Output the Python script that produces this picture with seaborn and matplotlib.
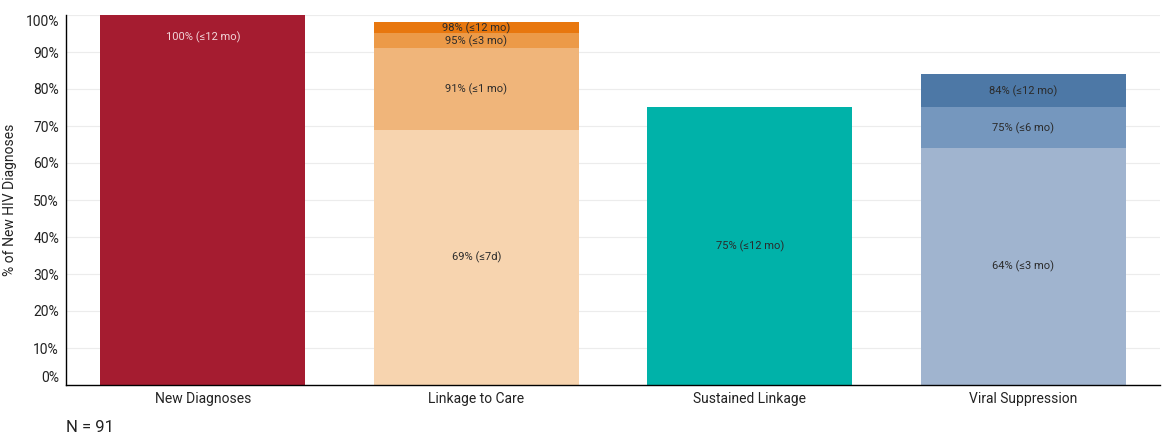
import seaborn as sns
import pandas as pd
import numpy as np
import matplotlib.pyplot as plt

categories = ["New Diagnoses", "Linkage to Care", "Sustained Linkage", "Viral Suppression"]

# segmentos acumulados por categoria (do maior para o menor)
seg_category = ["New Diagnoses",
                "Linkage to Care", "Linkage to Care", "Linkage to Care", "Linkage to Care",
                "Sustained Linkage",
                "Viral Suppression", "Viral Suppression", "Viral Suppression"]
seg_value = [100, 98, 95, 91, 69, 75, 84, 75, 64]
seg_label = ["100% (≤12 mo)",
             "98% (≤12 mo)", "95% (≤3 mo)", "91% (≤1 mo)", "69% (≤7d)",
             "75% (≤12 mo)",
             "84% (≤12 mo)", "75% (≤6 mo)", "64% (≤3 mo)"]
seg_color = ["#A51C30",
             "#E8770E", "#EC9A48", "#F0B57A", "#F7D4AF",
             "#00B2A9",
             "#4D78A6", "#7597BE", "#A0B4CF"]

y_ticks = [0, 10, 20, 30, 40, 50, 60, 70, 80, 90, 100]
n_total = 91

df = pd.DataFrame({"categoria": seg_category, "valor": seg_value,
                   "label": seg_label, "cor": seg_color})

sns.set_style("white")
plt.rcParams['font.family'] = ['Roboto', 'DejaVu Sans']

fig = plt.figure(figsize=(11.67, 4.44), dpi=100)
ax = fig.add_axes([66 / 1167, 59 / 444, 1094 / 1167, 370 / 444])

ax.set_axisbelow(True)
for t in y_ticks:
    ax.axhline(t, color="#ececec", lw=0.8, zorder=0)

# desenhar do maior para o menor para sobrepor os segmentos
for _, row in df.sort_values("valor", ascending=False).iterrows():
    sns.barplot(x=[row["categoria"]], y=[row["valor"]], order=categories,
                color=row["cor"], saturation=1, width=0.75, linewidth=0,
                edgecolor=row["cor"], ax=ax, zorder=2)

# rótulos no centro de cada segmento
for cat in categories:
    sub = df[df["categoria"] == cat].sort_values("valor")
    xi = categories.index(cat)
    baixo = 0
    for _, row in sub.iterrows():
        if len(sub) == 1 and row["valor"] == 100:
            ymid = row["valor"] - 6
            cor_txt = "#f2d6da"
        else:
            ymid = (baixo + row["valor"]) / 2
            cor_txt = "#2b2b2b"
        ax.text(xi, ymid, row["label"], ha="center", va="center",
                fontsize=8, color=cor_txt, zorder=3)
        baixo = row["valor"]

ax.set_xlim(-0.5, len(categories) - 0.5)
ax.set_ylim(0, 100)
ax.set_yticks(y_ticks)
ax.set_yticklabels([f"{t}%" for t in y_ticks], fontsize=10, color="#222222")
ylabels = ax.get_yticklabels()
ylabels[0].set_va("bottom")
ylabels[-1].set_va("top")
ax.tick_params(axis="y", length=0, pad=5)
ax.tick_params(axis="x", length=0, pad=5, labelsize=10, colors="#222222")
ax.set_xticks(np.arange(0.5, len(categories) - 0.5), minor=True)
ax.tick_params(axis="x", which="minor", length=3, color="#cccccc", width=0.6)
ax.set_xlabel("")
ax.set_ylabel("% of New HIV Diagnoses", fontsize=10, color="#222222", labelpad=6)

for s in ["top", "right"]:
    ax.spines[s].set_visible(False)
for s in ["left", "bottom"]:
    ax.spines[s].set_color("black")
    ax.spines[s].set_linewidth(1)

fig.text(66 / 1167, 1 - 427 / 444, f"N = {n_total}", fontsize=12,
         ha="left", va="center", color="#222222")

fig.savefig("out.png", dpi=100)
